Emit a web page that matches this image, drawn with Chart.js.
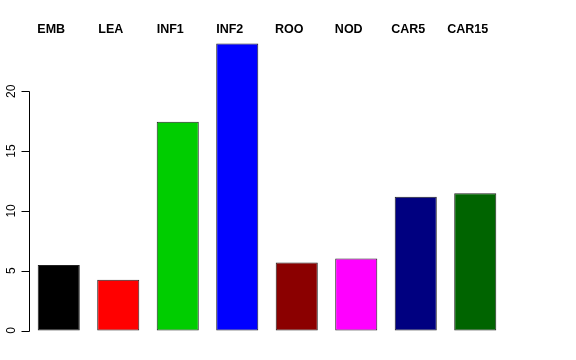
<!DOCTYPE html>
<html>
<head>
<meta charset="utf-8">
<script src="https://cdn.jsdelivr.net/npm/chart.js@4/dist/chart.umd.min.js"></script>
<style>
html,body{margin:0;padding:0;background:#fff;}
#wrap{width:576px;height:360px;}
</style>
</head>
<body>
<div id="wrap"><canvas id="c" width="576" height="360"></canvas></div>
<script>
const categories = ["EMB","LEA","INF1","INF2","ROO","NOD","CAR5","CAR15"];
const values = [5.47, 4.25, 17.46, 24.0, 5.68, 6.03, 11.19, 11.47];
const barColors = ["#000000","#FF0000","#00CD00","#0000FF","#8B0000","#FF00FF","#000080","#006400"];
const yTicks = [0, 5, 10, 15, 20];

const rAxisPlugin = {
  id: 'rAxis',
  afterDraw(chart) {
    const ctx = chart.ctx;
    const y = chart.scales.y, x = chart.scales.x;
    const ax = chart.chartArea.left;
    ctx.save();
    ctx.strokeStyle = '#000';
    ctx.lineWidth = 1;
    ctx.beginPath();
    const y0 = Math.round(y.getPixelForValue(yTicks[0])) + 0.5;
    const y1 = Math.round(y.getPixelForValue(yTicks[yTicks.length-1])) + 0.5;
    const axX = Math.round(ax) + 0.5;
    ctx.moveTo(axX, y0); ctx.lineTo(axX, y1);
    yTicks.forEach(t => {
      const py = Math.round(y.getPixelForValue(t)) + 0.5;
      ctx.moveTo(axX, py); ctx.lineTo(axX - 8, py);
    });
    ctx.stroke();
    ctx.fillStyle = '#000';
    ctx.font = '12px "Liberation Sans", Arial, sans-serif';
    ctx.textAlign = 'center';
    ctx.textBaseline = 'middle';
    yTicks.forEach(t => {
      const py = y.getPixelForValue(t);
      ctx.save();
      ctx.translate(axX - 18, py);
      ctx.rotate(-Math.PI/2);
      ctx.fillText(String(t), 0, 0);
      ctx.restore();
    });
    ctx.font = 'bold 12.5px "Liberation Sans", Arial, sans-serif';
    categories.forEach((c, i) => {
      const px = x.getPixelForValue(i);
      ctx.fillText(c, px - 7.5, 30);
    });
    ctx.restore();
  }
};

new Chart(document.getElementById('c'), {
  type: 'bar',
  data: {
    labels: categories,
    datasets: [{
      data: values,
      backgroundColor: barColors,
      borderColor: '#222222',
      borderWidth: 1,
      borderSkipped: false,
      categoryPercentage: 1,
      barPercentage: 0.707
    }]
  },
  options: {
    responsive: false,
    animation: false,
    devicePixelRatio: 1,
    layout: { padding: { left: 29, right: 71, top: 32, bottom: 18 } },
    plugins: { legend: { display: false }, tooltip: { enabled: false } },
    scales: {
      x: { display: false, offset: true },
      y: { display: false, min: -0.96, max: 24.96 }
    }
  },
  plugins: [rAxisPlugin]
});
</script>
</body>
</html>
